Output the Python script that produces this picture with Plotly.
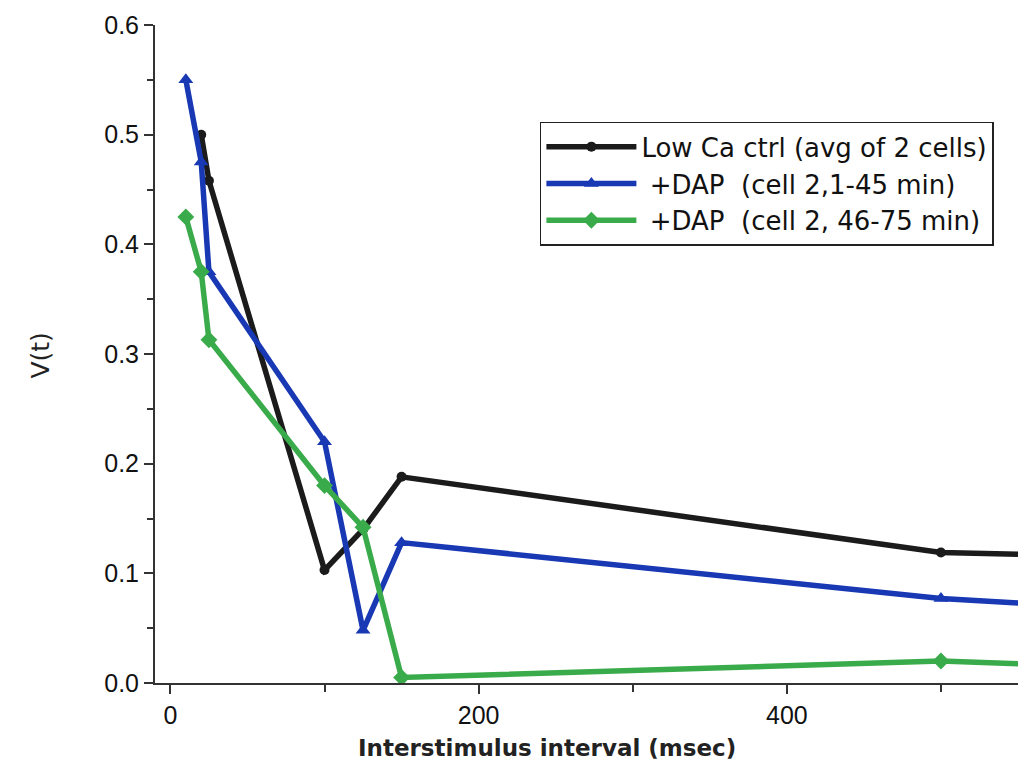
import plotly.graph_objects as go

# Interstimulus intervals (msec) and paired-pulse ratio V(t) for each condition
ctrl_x = [20, 25, 100, 125, 150, 500, 600]
ctrl_y = [0.500, 0.458, 0.103, 0.140, 0.188, 0.119, 0.116]

dap_early_x = [10, 20, 25, 100, 125, 150, 500, 600]
dap_early_y = [0.550, 0.475, 0.375, 0.220, 0.048, 0.128, 0.077, 0.069]

dap_late_x = [10, 20, 25, 100, 125, 150, 500, 600]
dap_late_y = [0.425, 0.375, 0.313, 0.180, 0.142, 0.005, 0.020, 0.015]

names = [
    "Low Ca ctrl (avg of 2 cells)",
    " +DAP  (cell 2,1-45 min)",
    " +DAP  (cell 2, 46-75 min)",
]

x_title = "Interstimulus interval (msec)"
y_title = "V(t)"

fig = go.Figure()
fig.add_trace(go.Scatter(
    x=ctrl_x, y=ctrl_y, name=names[0], mode="lines+markers", legendgroup="a",
    line=dict(color="#1b1b1b", width=5.5),
    marker=dict(symbol="circle", size=10, color="#1b1b1b"),
))
fig.add_trace(go.Scatter(
    x=dap_early_x, y=dap_early_y, name=names[1], mode="lines+markers", legendgroup="b",
    line=dict(color="#1838b4", width=5.5),
    marker=dict(symbol="triangle-up", size=13, color="#1838b4"),
))
fig.add_trace(go.Scatter(
    x=dap_late_x, y=dap_late_y, name=names[2], mode="lines+markers", legendgroup="c",
    line=dict(color="#3aab4a", width=5.5),
    marker=dict(symbol="diamond", size=13, color="#3aab4a"),
))

tick_font = "Liberation Sans, Arial, sans-serif"
label_font = "DejaVu Sans, sans-serif"

fig.update_layout(
    width=1024, height=771,
    margin=dict(l=155, r=6, t=25, b=88),
    paper_bgcolor="white", plot_bgcolor="white",
    font=dict(family=tick_font, color="#111"),
    showlegend=True,
    legend=dict(
        x=0.446, y=0.853, xanchor="left", yanchor="top",
        bordercolor="#222", borderwidth=1.5, bgcolor="white",
        font=dict(size=26, family=label_font, color="#111"),
        itemwidth=90, tracegroupgap=0,
    ),
    xaxis=dict(
        range=[-10, 550], tickvals=[0, 200, 400],
        ticks="outside", ticklen=9, tickwidth=2, tickcolor="#333",
        showline=True, linecolor="#333", linewidth=2,
        showgrid=False, zeroline=False,
        tickfont=dict(size=25, color="#111"),
        minor=dict(tickvals=[100, 300, 500], ticks="outside", ticklen=7,
                   tickwidth=2, tickcolor="#333", showgrid=False),
    ),
    yaxis=dict(
        range=[0, 0.6], tickvals=[0.0, 0.1, 0.2, 0.3, 0.4, 0.5, 0.6],
        ticktext=["0.0", "0.1", "0.2", "0.3", "0.4", "0.5", "0.6"],
        ticks="outside", ticklen=9, tickwidth=2, tickcolor="#333",
        showline=True, linecolor="#333", linewidth=2,
        showgrid=False, zeroline=False,
        tickfont=dict(size=25, color="#111"),
        minor=dict(tickvals=[0.05, 0.15, 0.25, 0.35, 0.45, 0.55], ticks="outside",
                   ticklen=6, tickwidth=2, tickcolor="#333", showgrid=False),
    ),
    annotations=[
        dict(text="<b>" + x_title + "</b>", xref="paper", yref="paper",
             x=0.454, y=-0.099, xanchor="center", yanchor="middle",
             showarrow=False, font=dict(size=23, family=label_font, color="#222")),
        dict(text=y_title, xref="paper", yref="paper", textangle=-90,
             x=-0.133, y=0.498, xanchor="center", yanchor="middle",
             showarrow=False, font=dict(size=25, family=label_font, color="#222")),
    ],
)

fig.write_html("out.html")
